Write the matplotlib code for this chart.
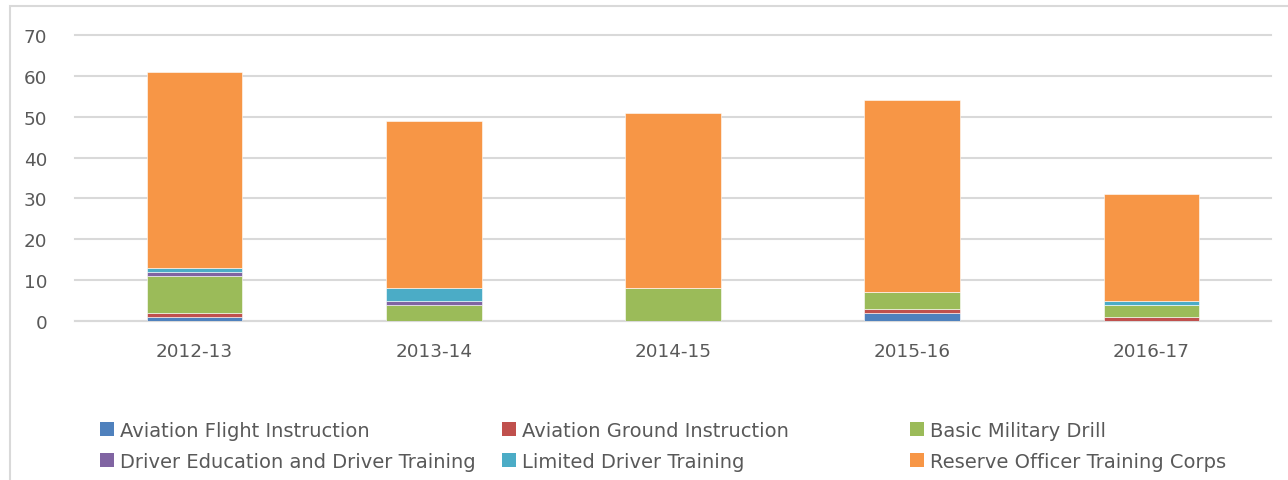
import matplotlib.pyplot as plt
from matplotlib.patches import Rectangle, Patch
import numpy as np

years = ['2012-13', '2013-14', '2014-15', '2015-16', '2016-17']
aviation_flight = [1, 0, 0, 2, 0]
aviation_ground = [1, 0, 0, 1, 1]
basic_drill = [9, 4, 8, 4, 3]
driver_ed = [1, 1, 0, 0, 0]
limited_driver = [1, 3, 0, 0, 1]
rotc = [48, 41, 43, 47, 26]

names = ['Aviation Flight Instruction', 'Aviation Ground Instruction', 'Basic Military Drill',
         'Driver Education and Driver Training', 'Limited Driver Training',
         'Reserve Officer Training Corps']
colors = ['#4F81BD', '#C0504D', '#9BBB59', '#8064A2', '#4BACC6', '#F79646']
series = [aviation_flight, aviation_ground, basic_drill, driver_ed, limited_driver, rotc]

plt.rcParams['font.family'] = ['DejaVu Sans']
text_color = '#595959'
grid_color = '#D9D9D9'

fig = plt.figure(figsize=(12.88, 4.81), dpi=100)
ax = fig.add_axes([75 / 1288, 1 - 322 / 481, 1196 / 1288, 286 / 481])

# chart area border
fig.patches.append(Rectangle((10 / 1288, -0.1), 1.1, 1.1 - 7 / 481, transform=fig.transFigure,
                             fill=False, edgecolor=grid_color, linewidth=1.5))

x = np.arange(len(years))
bottom = np.zeros(len(years))
for vals, c in zip(series, colors):
    ax.bar(x, vals, width=0.4, bottom=bottom, color=c, edgecolor='#ffffff', linewidth=0.4, zorder=3)
    bottom += np.array(vals)

ax.set_xlim(-0.5, len(years) - 0.5)
ax.set_ylim(0, 70)
ax.set_yticks(range(0, 71, 10))
ax.set_xticks(x)
ax.set_xticklabels(years)
ax.yaxis.grid(True, color=grid_color, linewidth=1.5, zorder=0)
for gl in ax.get_ygridlines():
    gl.set_clip_on(False)
ax.set_axisbelow(True)
for s in ['top', 'right', 'left']:
    ax.spines[s].set_visible(False)
ax.spines['bottom'].set_color(grid_color)
ax.spines['bottom'].set_linewidth(1.5)
ax.tick_params(length=0, labelsize=13.2, colors=text_color, pad=15)
ax.tick_params(axis='y', pad=20)

# legend in three columns, Excel-style spacing
handles = [Patch(facecolor=c) for c in colors]
col_x = [100 / 1288, 502 / 1288, 910 / 1288]
for i, cx in enumerate(col_x):
    leg = fig.legend([handles[i], handles[i + 3]], [names[i], names[i + 3]],
                     loc='upper left', bbox_to_anchor=(cx, 1 - 422 / 481), frameon=False,
                     handlelength=0.72, handleheight=0.72, handletextpad=0.3,
                     labelspacing=0.6, fontsize=14, labelcolor=text_color,
                     borderaxespad=0, borderpad=0)

fig.savefig('out.png', dpi=100)
